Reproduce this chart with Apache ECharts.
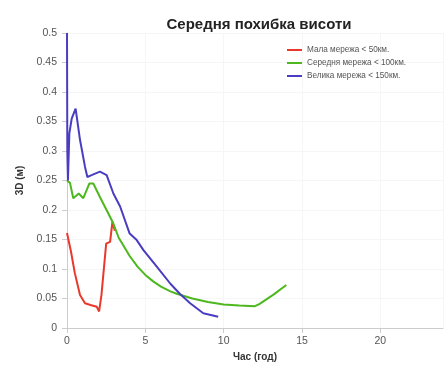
<!DOCTYPE html>
<html><head><meta charset="utf-8">
<script src="https://cdn.jsdelivr.net/npm/echarts@6/dist/echarts.min.js"></script>
<style>html,body{margin:0;padding:0;background:#fff}#c{width:446px;height:383px}</style>
</head><body><div id="c"></div>
<script>
const seriesNames = ['Мала мережа < 50км.', 'Середня мережа < 100км.', 'Велика мережа < 150км.'];
const smallNet = [[0,0.161],[0.25,0.13],[0.5,0.093],[0.83,0.056],[1.15,0.042],[1.5,0.039],[1.9,0.036],[2.05,0.028],[2.2,0.056],[2.5,0.143],[2.75,0.146],[2.9,0.18],[3.05,0.165]];
const mediumNet = [[0,0.25],[0.19,0.246],[0.4,0.22],[0.75,0.228],[1.04,0.22],[1.26,0.234],[1.43,0.245],[1.68,0.245],[2.1,0.222],[2.64,0.194],[2.96,0.177],[3.3,0.153],[3.6,0.14],[4.0,0.122],[4.5,0.104],[5.0,0.09],[5.5,0.079],[6.0,0.07],[6.6,0.062],[7.0,0.058],[8.0,0.05],[9.0,0.044],[10.0,0.04],[11.0,0.038],[12.0,0.037],[12.3,0.041],[13.2,0.057],[14.0,0.073]];
const largeNet = [[0,0.5],[0.02,0.3],[0.06,0.25],[0.15,0.33],[0.3,0.355],[0.55,0.372],[0.83,0.319],[1.15,0.273],[1.3,0.256],[1.57,0.259],[2.1,0.265],[2.53,0.259],[2.96,0.228],[3.39,0.206],[4.0,0.16],[4.45,0.149],[4.88,0.132],[5.73,0.104],[6.6,0.075],[7.2,0.058],[7.86,0.042],[8.7,0.025],[9.65,0.019]];
const colors = ['#e8392c', '#4cb81e', '#4a3dc0'];
const chart = echarts.init(document.getElementById('c'));
const mk = (name, data, c) => ({name, type:'line', data, showSymbol:false, symbol:'none', lineStyle:{width:2, color:c}, itemStyle:{color:c}});
chart.setOption({
  animation:false,
  title:{text:'Середня похибка висоти', left:254, textAlign:'center', top:12, textStyle:{fontSize:15, fontWeight:'bold', color:'#222', fontFamily:'Liberation Sans'}},
  legend:{orient:'vertical', left:282, top:41, itemWidth:15, itemHeight:2, itemGap:5, icon:'rect',
    textStyle:{fontSize:8.2, color:'#555', fontFamily:'Liberation Sans'}, data:seriesNames},
  grid:{left:67, right:3, top:33, bottom:55},
  xAxis:{type:'value', min:0, max:24, interval:5, name:'Час (год)', nameLocation:'middle', nameGap:22,
    nameTextStyle:{fontSize:10, fontWeight:'bold', color:'#333', fontFamily:'Liberation Sans'},
    axisLine:{lineStyle:{color:'#ccc'}}, axisTick:{show:true, lineStyle:{color:'#ccc'}},
    axisLabel:{fontSize:10.5, color:'#555', fontFamily:'Liberation Sans', showMaxLabel:false},
    splitLine:{show:true, lineStyle:{color:'#f6f6f6'}}},
  yAxis:{type:'value', min:0, max:0.5, interval:0.05, name:'3D (м)', nameLocation:'middle', nameGap:37,
    nameTextStyle:{fontSize:10, fontWeight:'bold', color:'#333', fontFamily:'Liberation Sans'},
    axisLine:{show:true, lineStyle:{color:'#ccc'}}, axisTick:{show:true, lineStyle:{color:'#ccc'}},
    axisLabel:{fontSize:10.5, margin:10, color:'#555', fontFamily:'Liberation Sans', formatter:v=>String(+v.toFixed(2))},
    splitLine:{show:true, lineStyle:{color:'#f6f6f6'}}},
  series:[mk(seriesNames[0], smallNet, colors[0]), mk(seriesNames[1], mediumNet, colors[1]), mk(seriesNames[2], largeNet, colors[2])]
});
</script></body></html>
